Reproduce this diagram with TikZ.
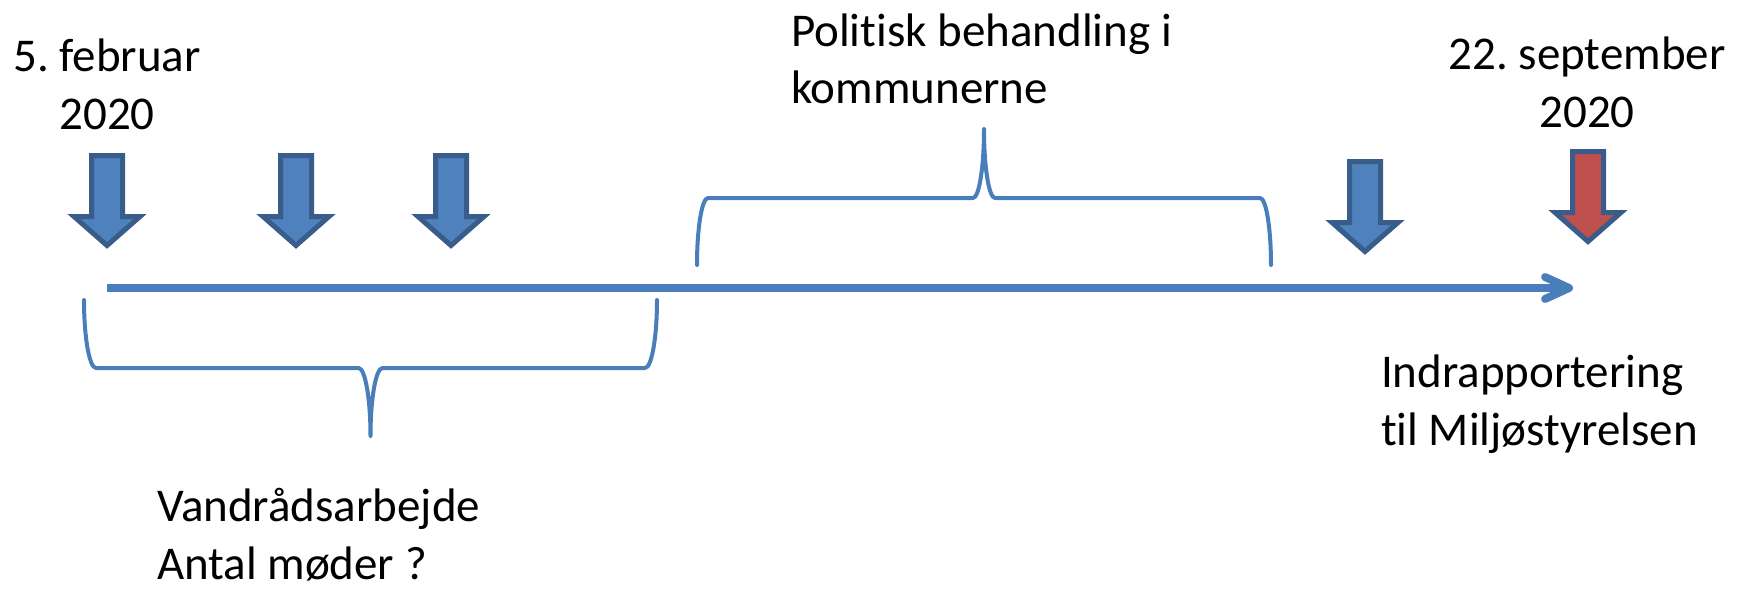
\documentclass[tikz,border=0pt]{standalone}
\usepackage{fontspec}
\setmainfont{Carlito}[Ligatures=NoCommon]
\frenchspacing
\definecolor{lineblue}{HTML}{4A7EBB}
\definecolor{fillblue}{HTML}{4F81BD}
\definecolor{edgeblue}{HTML}{385D8A}
\definecolor{fillred}{HTML}{C0504D}
\newcommand\dnarr[3]{% x, top y, fill colour
  \draw[arrowshape, fill=#3] ({#1-15.5},#2) -- ({#1+15.5},#2) -- ({#1+15.5},{#2+61}) -- ({#1+33},{#2+61})
    -- (#1,{#2+90}) -- ({#1-33},{#2+61}) -- ({#1-15.5},{#2+61}) -- cycle;}
% brace: x1, x2, y of ends, y of bar, y of tip, horizontal radius
\newcommand\hbrace[6]{%
  \pgfmathsetmacro\bxm{(#1+#2)/2}%
  \pgfmathsetmacro\bk{0.5523}%
  \draw[bracepath] (#1,#3)
    .. controls (#1,{#3+\bk*(#4-#3)}) and ({#1+#6-\bk*#6},#4) .. ({#1+#6},#4)
    -- ({\bxm-#6},#4)
    .. controls ({\bxm-#6+\bk*#6},#4) and (\bxm,{#5-\bk*(#5-#4)}) .. (\bxm,#5)
    .. controls (\bxm,{#5-\bk*(#5-#4)}) and ({\bxm+#6-\bk*#6},#4) .. ({\bxm+#6},#4)
    -- ({#2-#6},#4)
    .. controls ({#2-#6+\bk*#6},#4) and (#2,{#3+\bk*(#4-#3)}) .. (#2,#3);}
\tikzset{
  arrowshape/.style={draw=edgeblue, line width=2.5pt, line join=miter},
  timeline/.style={draw=lineblue, line width=4pt},
  bracepath/.style={draw=lineblue, line width=2pt, line cap=round, line join=round},
  lbl/.style={font=\fontsize{23.5pt}{28.75pt}\selectfont, inner sep=0pt, outer sep=0pt, text=black}
}
\begin{document}
\begin{tikzpicture}[x=0.5pt, y=-0.5pt]
\useasboundingbox (0,0) rectangle (1753,589);
% event arrows
\dnarr{107}{155.5}{fillblue}
\dnarr{296}{155.5}{fillblue}
\dnarr{451}{155.5}{fillblue}
\dnarr{1365}{161.5}{fillblue}
\dnarr{1588}{151.5}{fillred}
% time line
\coordinate (tlstart) at (107,288);
\coordinate (tlend) at (1569,288);
\coordinate (barbA) at (1545,277);
\coordinate (barbB) at (1545,299);
\draw[timeline] (tlstart) -- (tlend);
\draw[timeline, line cap=round, line join=round] (barbA) -- (tlend) -- (barbB);
% braces
\hbrace{84}{657}{300}{368}{436}{12}
\hbrace{697}{1271}{265}{198}{129}{11}
% labels
\node[lbl, anchor=base, align=center] (start) at (107,129) {5. februar\\2020};
\node[lbl, anchor=base, align=center] (end) at (1587,127) {22. september\\2020};
\node[lbl, anchor=base west, align=left] (polit) at (791,104) {Politisk behandling i\\kommunerne};
\node[lbl, anchor=base west, align=left] (report) at (1381,445) {Indrapportering\\til Miljøstyrelsen};
\node[lbl, anchor=base west, align=left] (vand) at (157,579) {Vandrådsarbejde\\Antal møder ?};
\end{tikzpicture}
\end{document}
